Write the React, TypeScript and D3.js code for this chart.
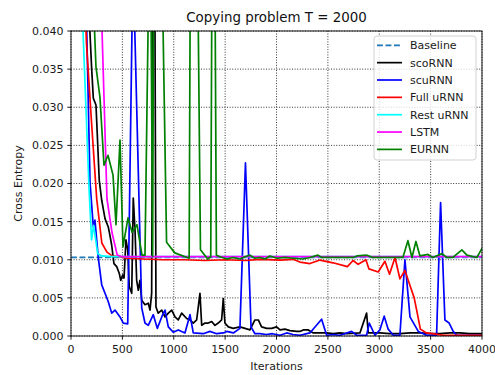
import React from 'react';
import * as d3 from 'd3';

type Pt = [number, number];

const baseline: Pt[] = [[0, 0.0103], [4000, 0.0103]];

const scoRNN: Pt[] = [
  [0, 0.15], [100, 0.08], [180, 0.041], [201, 0.0351], [217, 0.0312], [243, 0.0303], [256, 0.0264],
  [275, 0.0204], [299, 0.0178], [331, 0.0154], [363, 0.0143], [379, 0.0132], [396, 0.0119],
  [418, 0.0095], [445, 0.0091], [470, 0.0082], [484, 0.0073], [503, 0.008], [516, 0.0076],
  [535, 0.0126], [552, 0.0113], [567, 0.0065], [591, 0.0056], [606, 0.0181], [623, 0.0139],
  [639, 0.0073], [655, 0.006], [671, 0.0073], [688, 0.0047], [720, 0.0041], [752, 0.0043],
  [769, 0.0034], [785, 0.0056], [800, 0.06], [815, 0.05], [827, 0.0038], [849, 0.003],
  [883, 0.0034], [915, 0.0025], [947, 0.003], [980, 0.0034], [1012, 0.0025], [1044, 0.0021],
  [1077, 0.003], [1126, 0.0023], [1158, 0.0021], [1190, 0.0017], [1223, 0.0021], [1255, 0.0056],
  [1272, 0.0014], [1304, 0.0017], [1336, 0.0017], [1369, 0.0019], [1401, 0.0014], [1433, 0.0017],
  [1466, 0.0021], [1482, 0.0049], [1498, 0.0017], [1531, 0.0012], [1579, 0.001], [1644, 0.0012],
  [1693, 0.001], [1742, 0.0008], [1790, 0.0021], [1823, 0.0021], [1855, 0.0012], [1904, 0.001],
  [1953, 0.001], [2001, 0.0012], [2034, 0.0008], [2082, 0.0009], [2131, 0.0007], [2196, 0.0006],
  [2228, 0.0006], [2260, 0.0008], [2309, 0.0008], [2358, 0.0004], [2423, 0.0004], [2488, 0.0004],
  [2552, 0.0003], [2617, 0.0004], [2682, 0.0003], [2812, 0.0004], [2877, 0.003], [2893, 0.0004],
  [3006, 0.0004], [3100, 0.0003], [3201, 0.0003], [3300, 0.0004], [3396, 0.0004], [3500, 0.0003],
  [3590, 0.0003], [3690, 0.0004], [3785, 0.0004], [3880, 0.0003], [4000, 0.0003],
];

const scuRNN: Pt[] = [
  [0, 0.15], [100, 0.08], [150, 0.042], [185, 0.0202], [217, 0.0143], [233, 0.0152], [266, 0.0102],
  [299, 0.0067], [331, 0.0056], [363, 0.0045], [396, 0.003], [428, 0.0034], [477, 0.0025],
  [509, 0.0017], [552, 0.0016], [567, 0.0148], [595, 0.0415], [620, 0.0405], [688, 0.0037],
  [720, 0.0017], [752, 0.0014], [801, 0.0028], [840, 0.001], [883, 0.0025], [915, 0.0034],
  [947, 0.0012], [995, 0.0005], [1044, 0.0008], [1109, 0.0004], [1158, 0.0028], [1190, 0.0004],
  [1287, 0.0003], [1352, 0.0006], [1417, 0.0003], [1482, 0.0004], [1515, 0.0006], [1580, 0.0004],
  [1644, 0.001], [1698, 0.0227], [1752, 0.0012], [1790, 0.0003], [1839, 0.0003], [1900, 0.0002],
  [1960, 0.0003], [2034, 0.0001], [2099, 0.0004], [2160, 0.0002], [2228, 0.0001], [2325, 0.0004],
  [2439, 0.0022], [2488, 0.0001], [2550, 0.0002], [2617, 0.0001], [2731, 0.0006], [2780, 0.0001],
  [2877, 0.0001], [2903, 0.0017], [2958, 0.0001], [3006, 0.0008], [3048, 0.0026], [3087, 0.0009],
  [3136, 0.0001], [3201, 0.0001], [3250, 0.01], [3299, 0.0025], [3380, 0.0006], [3461, 0.0001],
  [3558, 0.0001], [3597, 0.0175], [3639, 0.0021], [3680, 0.0017], [3720, 0.0006], [3753, 0.0001],
  [3850, 0.0001], [4000, 0.0001],
];

const fullURNN: Pt[] = [
  [0, 0.2], [100, 0.06], [150, 0.0385], [200, 0.028], [250, 0.018], [300, 0.0122], [350, 0.011],
  [400, 0.0105], [450, 0.0104], [550, 0.0102], [700, 0.0101], [900, 0.01], [1100, 0.01],
  [1300, 0.0099], [1500, 0.01], [1700, 0.0099], [1839, 0.01006], [2034, 0.00996], [2160, 0.01006],
  [2228, 0.0097], [2325, 0.0095], [2423, 0.00996], [2550, 0.0096], [2690, 0.0091], [2745, 0.0099],
  [2795, 0.0094], [2870, 0.01], [2900, 0.0088], [2990, 0.0084], [3055, 0.0098], [3100, 0.0081],
  [3153, 0.0103], [3201, 0.0075], [3250, 0.0086], [3300, 0.0066], [3340, 0.005], [3370, 0.003],
  [3400, 0.0009], [3460, 0.0004], [3520, 0.0003], [3620, 0.0001], [4000, 0.0001],
];

const restURNN: Pt[] = [
  [0, 0.12], [100, 0.046], [175, 0.0195], [200, 0.0126], [220, 0.0145], [260, 0.0108],
  [300, 0.0105], [400, 0.0104], [4000, 0.0104],
];

const lstm: Pt[] = [
  [0, 0.12], [250, 0.07], [300, 0.041], [350, 0.018], [400, 0.0135], [450, 0.0106],
  [500, 0.0104], [4000, 0.0104],
];

const eurnn: Pt[] = [
  [0, 0.12], [200, 0.05], [243, 0.0353], [282, 0.0313], [321, 0.0224], [360, 0.0237], [409, 0.0211],
  [438, 0.0146], [477, 0.0257], [506, 0.0117], [555, 0.0155], [594, 0.0136], [642, 0.0146],
  [691, 0.0106], [720, 0.0106], [770, 0.06], [795, 0.0105], [812, 0.09], [860, 0.07], [930, 0.0123],
  [1010, 0.0109], [1150, 0.0102], [1170, 0.08], [1210, 0.08], [1260, 0.0113], [1330, 0.0101],
  [1360, 0.0104], [1385, 0.09], [1415, 0.0106], [1450, 0.0104], [1518, 0.0101], [1576, 0.0103],
  [1644, 0.0101], [1693, 0.0104], [1742, 0.0106], [1790, 0.0102], [1839, 0.0103], [1888, 0.0101],
  [1936, 0.0105], [2004, 0.0102], [2082, 0.0103], [2160, 0.0102], [2257, 0.0101], [2325, 0.0103],
  [2403, 0.0106], [2442, 0.0103], [2588, 0.0103], [2744, 0.0103], [2783, 0.0105], [2880, 0.0106],
  [2938, 0.0103], [3075, 0.0103], [3230, 0.0103], [3279, 0.0125], [3318, 0.0103], [3357, 0.0124],
  [3396, 0.0105], [3474, 0.0107], [3522, 0.0103], [3610, 0.0108], [3658, 0.0103], [3717, 0.0103],
  [3804, 0.0113], [3853, 0.0106], [3950, 0.0103], [4000, 0.0115],
];

const seriesNames = ['Baseline', 'scoRNN', 'scuRNN', 'Full uRNN', 'Rest uRNN', 'LSTM', 'EURNN'];
const seriesData = [baseline, scoRNN, scuRNN, fullURNN, restURNN, lstm, eurnn];
const seriesColors = ['#1f77b4', '#000000', '#0000ff', '#ff0000', '#00ffff', '#ff00ff', '#008000'];

const xTicks = [0, 500, 1000, 1500, 2000, 2500, 3000, 3500, 4000];
const yTicks = [0, 0.005, 0.01, 0.015, 0.02, 0.025, 0.03, 0.035, 0.04];

export default function App() {
  const W = 495;
  const H = 375;
  const left = 71, right = 482, top = 31, bottom = 336;
  const font = 'DejaVu Sans, sans-serif';
  const fs = 11;

  const x = d3.scaleLinear().domain([0, 4000]).range([left, right]);
  const y = d3.scaleLinear().domain([0, 0.04]).range([bottom, top]);
  const line = d3.line<Pt>().x((d) => x(d[0])).y((d) => y(d[1]));

  return (
    <svg width={W} height={H} style={{ position: 'absolute', left: 0, top: 0, background: 'white' }}>
      <defs>
        <clipPath id="plot-clip">
          <rect x={left} y={top} width={right - left} height={bottom - top} />
        </clipPath>
      </defs>

      {/* grid */}
      {xTicks.map((t) => (
        <line key={'gx' + t} x1={x(t)} x2={x(t)} y1={top} y2={bottom}
          stroke="#222" strokeWidth={0.9} strokeDasharray="1,1.6" />
      ))}
      {yTicks.map((t) => (
        <line key={'gy' + t} x1={left} x2={right} y1={y(t)} y2={y(t)}
          stroke="#222" strokeWidth={0.9} strokeDasharray="1,1.6" />
      ))}

      {/* series */}
      <g clipPath="url(#plot-clip)">
        {seriesData.map((d, i) => (
          <path key={seriesNames[i]} d={line(d) || ''} fill="none" stroke={seriesColors[i]}
            strokeWidth={1.7} strokeLinejoin="round"
            strokeDasharray={i === 0 ? '5.9,2.6' : undefined} />
        ))}
      </g>

      {/* frame */}
      <rect x={left} y={top} width={right - left} height={bottom - top} fill="none" stroke="black" strokeWidth={0.9} />

      {/* x axis */}
      {xTicks.map((t) => (
        <g key={'xt' + t}>
          <line x1={x(t)} x2={x(t)} y1={bottom} y2={bottom + 3.7} stroke="black" strokeWidth={0.9} />
          <text x={x(t)} y={bottom + 17} textAnchor="middle" fontFamily={font} fontSize={fs} fill="#1a1a1a">{t}</text>
        </g>
      ))}
      <text x={(left + right) / 2} y={370} textAnchor="middle" fontFamily={font} fontSize={fs} fill="#1a1a1a">Iterations</text>

      {/* y axis */}
      {yTicks.map((t) => (
        <g key={'yt' + t}>
          <line x1={left - 3.7} x2={left} y1={y(t)} y2={y(t)} stroke="black" strokeWidth={0.9} />
          <text x={left - 7.5} y={y(t)} dy="0.36em" textAnchor="end" fontFamily={font} fontSize={fs} fill="#1a1a1a">
            {d3.format('.3f')(t)}
          </text>
        </g>
      ))}
      <text transform={`translate(22,${(top + bottom) / 2}) rotate(-90)`} textAnchor="middle"
        fontFamily={font} fontSize={fs} fill="#1a1a1a">Cross Entropy</text>

      {/* title */}
      <text x={(left + right) / 2} y={22} textAnchor="middle" fontFamily={font} fontSize={13.4} fill="#111">
        Copying problem T = 2000
      </text>

      {/* legend */}
      <rect x={374} y={36} width={102} height={124} rx={3} fill="white" fillOpacity={0.8} stroke="#cccccc" strokeWidth={0.9} />
      {seriesNames.map((n, i) => {
        const ry = 45.3 + i * 17.35;
        return (
          <g key={'lg' + n}>
            <line x1={377} x2={402} y1={ry} y2={ry} stroke={seriesColors[i]} strokeWidth={1.7}
              strokeDasharray={i === 0 ? '5.9,2.6' : undefined} />
            <text x={410} y={ry} dy="0.36em" fontFamily={font} fontSize={fs} fill="#1a1a1a">{n}</text>
          </g>
        );
      })}
    </svg>
  );
}
